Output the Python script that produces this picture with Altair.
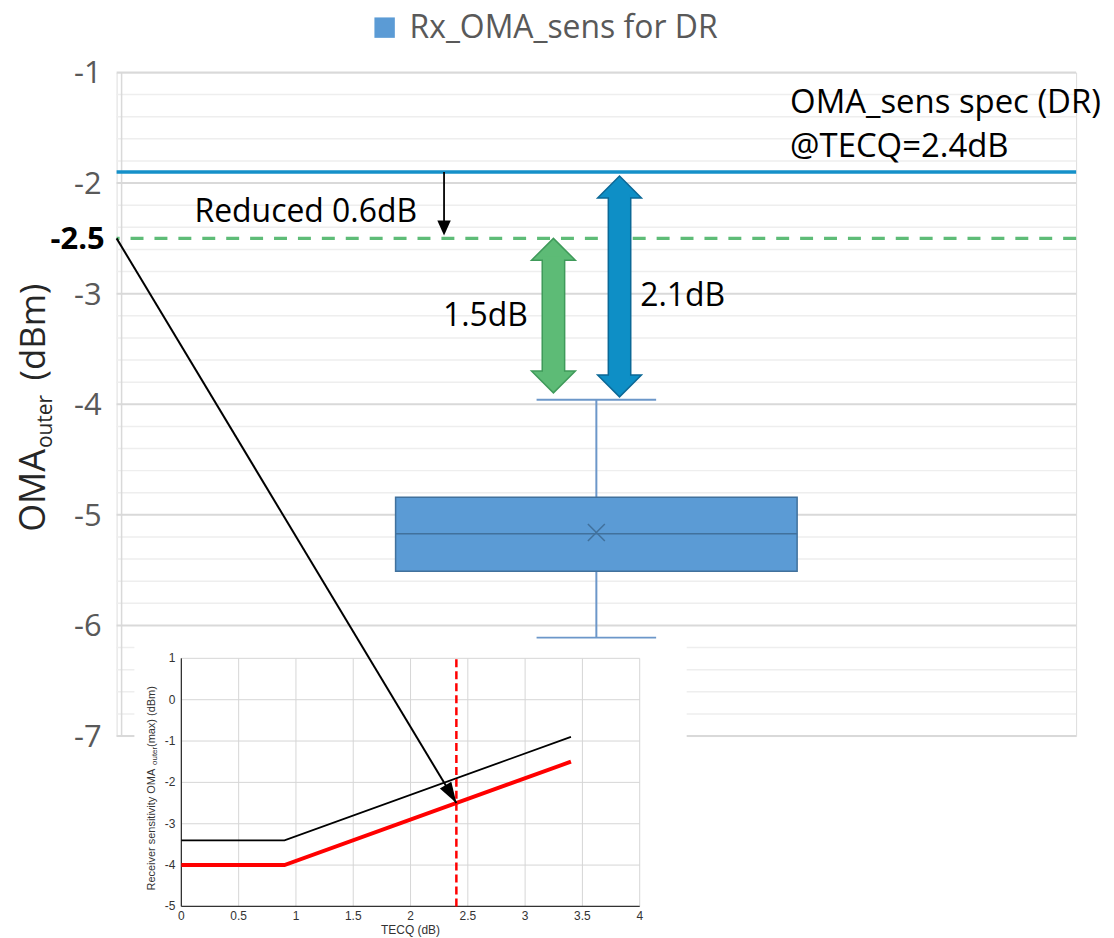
import math
import altair as alt
import pandas as pd

# ------------------------------------------------------------------ data
series_name = "Rx_OMA_sens for DR"
box_whisker_low = -6.11
box_q1 = -5.51
box_median = -5.17
box_mean = -5.16
box_q3 = -4.84
box_whisker_high = -3.96

spec_level = -1.9        # OMA_sens spec (DR) @TECQ=2.4dB
reduced_level = -2.5     # spec reduced by 0.6 dB

y_major = [-1, -2, -3, -4, -5, -6, -7]
y_minor = [-1.2, -1.4, -1.6, -1.8, -2.2, -2.4, -2.6, -2.8, -3.2, -3.4, -3.6, -3.8,
           -4.2, -4.4, -4.6, -4.8, -5.2, -5.4, -5.6, -5.8, -6.2, -6.4, -6.6, -6.8]
y_tick_labels = ["-1", "-2", "-3", "-4", "-5", "-6", "-7"]
highlight_label = "-2.5"

inset_tecq = [0, 0.9, 3.4]
inset_sens_spec = [-3.4, -3.4, -0.9]
inset_sens_reduced = [-4.0, -4.0, -1.5]
inset_tecq_marker = 2.4
inset_x_ticks = [0, 0.5, 1, 1.5, 2, 2.5, 3, 3.5, 4]
inset_x_tick_labels = ["0", "0.5", "1", "1.5", "2", "2.5", "3", "3.5", "4"]
inset_y_ticks = [1, 0, -1, -2, -3, -4, -5]
inset_y_tick_labels = ["1", "0", "-1", "-2", "-3", "-4", "-5"]

spec_texts = ["OMA_sens spec (DR)", "@TECQ=2.4dB"]
note_texts = ["Reduced 0.6dB", "1.5dB", "2.1dB"]

# ------------------------------------------------------------------ layout
W, H = 963, 666
PAD = {"left": 109, "top": 63, "right": 30, "bottom": 210}
MAIN_X_DOM = [0.0, 1.0]
MAIN_Y_DOM = [-7.0, -1.0]
INSET_X_DOM = [0.0, 4.0]
INSET_Y_DOM = [-5.0, 1.0]
INSET_X_RANGE = [65, 525]
INSET_Y_RANGE = [837, 588]
FONT = "Open Sans"
INSET_FONT = "Liberation Sans"

# annotation placement (main x units)
POS = {"box": 0.5, "green": 0.4548, "blue": 0.5244, "thin": 0.3396,
       "spec_x": 0.704, "spec_y": [-1.369, -1.766],
       "note_x": [0.0768, 0.3385, 0.5462], "note_y": [-2.351, -3.288, -3.108]}

BOX_FILL, BOX_EDGE, WHISK = "#5b9bd5", "#41719c", "#6c97c9"
SPEC_BLUE, GREEN = "#1590c9", "#5ebc77"


def sx():
    return alt.Scale(domain=MAIN_X_DOM, nice=False, zero=False)


def sy():
    return alt.Scale(domain=MAIN_Y_DOM, nice=False, zero=False)


def MX(f):
    return alt.X(f, type="quantitative", scale=sx(), axis=None)


def MY(f):
    return alt.Y(f, type="quantitative", scale=sy(), axis=None)


def IX(f):
    return alt.X(f, type="quantitative", axis=None,
                 scale=alt.Scale(domain=INSET_X_DOM, range=INSET_X_RANGE, nice=False, zero=False))


def IY(f):
    return alt.Y(f, type="quantitative", axis=None,
                 scale=alt.Scale(domain=INSET_Y_DOM, range=INSET_Y_RANGE, nice=False, zero=False))


def inset_to_px(tx, ty):
    px = INSET_X_RANGE[0] + (tx - INSET_X_DOM[0]) / (INSET_X_DOM[1] - INSET_X_DOM[0]) * (INSET_X_RANGE[1] - INSET_X_RANGE[0])
    py = INSET_Y_RANGE[0] + (ty - INSET_Y_DOM[0]) / (INSET_Y_DOM[1] - INSET_Y_DOM[0]) * (INSET_Y_RANGE[1] - INSET_Y_RANGE[0])
    return px, py


def main_to_px(mx, my):
    return (mx - MAIN_X_DOM[0]) / (MAIN_X_DOM[1] - MAIN_X_DOM[0]) * W, (MAIN_Y_DOM[1] - my) / (MAIN_Y_DOM[1] - MAIN_Y_DOM[0]) * H


def px_to_main(px, py):
    return MAIN_X_DOM[0] + px / W * (MAIN_X_DOM[1] - MAIN_X_DOM[0]), MAIN_Y_DOM[1] - py / H * (MAIN_Y_DOM[1] - MAIN_Y_DOM[0])


UP_HEAD = "M-1,1L0,0L1,1Z"
DOWN_HEAD = "M-1,-1L0,0L1,-1Z"


def fat_arrow(x, top, bottom, fill, edge, top_gap, bot_gap, head=22):
    df = pd.DataFrame({"x": [x], "top": [top], "bottom": [bottom]})
    base = alt.Chart(df)
    enc = dict(x=MX("x"), y=MY("top"), y2="bottom")
    outline = base.mark_rule(color=edge, strokeWidth=24, yOffset=top_gap + head - 1,
                             y2Offset=-(bot_gap + head - 1)).encode(**enc)
    up = base.mark_point(shape=UP_HEAD, size=(2 * head) ** 2, filled=True, color=fill, fill=fill,
                         stroke=edge, strokeWidth=1.5, opacity=1, yOffset=top_gap).encode(x=MX("x"), y=MY("top"))
    down = base.mark_point(shape=DOWN_HEAD, size=(2 * head) ** 2, filled=True, color=fill, fill=fill,
                           stroke=edge, strokeWidth=1.5, opacity=1, yOffset=-bot_gap).encode(x=MX("x"), y=MY("bottom"))
    inner = base.mark_rule(color=fill, strokeWidth=21, yOffset=top_gap + head - 4,
                           y2Offset=-(bot_gap + head - 4)).encode(**enc)
    return [outline, up, down, inner]


# ------------------------------------------------------------------ main chart
minor_grid = alt.Chart(pd.DataFrame({"v": y_minor})).mark_rule(color="#eeeeee", strokeWidth=1.5).encode(y=MY("v"))
major_grid = alt.Chart(pd.DataFrame({"v": y_major})).mark_rule(color="#d9d9d9", strokeWidth=2).encode(y=MY("v"))
y_domain = alt.Chart(pd.DataFrame({"x": [MAIN_X_DOM[0]], "y0": [MAIN_Y_DOM[0]], "y1": [MAIN_Y_DOM[1]]})).mark_rule(
    color="#d9d9d9", strokeWidth=1.5).encode(x=MX("x"), y=MY("y0"), y2="y1")
y_ticklab = alt.Chart(pd.DataFrame({"v": y_major, "t": y_tick_labels, "x": MAIN_X_DOM[0]})).mark_text(
    align="right", baseline="middle", dx=-20, dy=2, font=FONT, fontSize=31, color="#595959").encode(
    x=MX("x"), y=MY("v"), text="t:N")
y_highlight = alt.Chart(pd.DataFrame({"v": [reduced_level], "t": [highlight_label], "x": [MAIN_X_DOM[0]]})).mark_text(
    align="right", baseline="middle", dx=-17, dy=2, font=FONT, fontSize=31, fontWeight="bold", color="black").encode(
    x=MX("x"), y=MY("v"), text="t:N")

spec_line = alt.Chart(pd.DataFrame({"v": [spec_level]})).mark_rule(color=SPEC_BLUE, strokeWidth=3.5).encode(y=MY("v"))
reduced_line = alt.Chart(pd.DataFrame({"v": [reduced_level]})).mark_rule(
    color=GREEN, strokeWidth=3.5, strokeDash=[13, 11]).encode(y=MY("v"))

box_df = pd.DataFrame({"series": [series_name], "pos": [POS["box"]], "lo": [box_whisker_low], "q1": [box_q1],
                       "med": [box_median], "mean": [box_mean], "q3": [box_q3], "hi": [box_whisker_high]})
bb = alt.Chart(box_df)
whisk_lo = bb.mark_rule(color=WHISK, strokeWidth=2).encode(x=MX("pos"), y=MY("lo"), y2="q1")
whisk_hi = bb.mark_rule(color=WHISK, strokeWidth=2).encode(x=MX("pos"), y=MY("q3"), y2="hi")
cap_lo = bb.mark_tick(orient="horizontal", size=120, thickness=2, color=WHISK, opacity=1).encode(x=MX("pos"), y=MY("lo"))
cap_hi = bb.mark_tick(orient="horizontal", size=120, thickness=2, color=WHISK, opacity=1).encode(x=MX("pos"), y=MY("hi"))
box = bb.mark_bar(size=403, stroke=BOX_EDGE, strokeWidth=1.5, opacity=1).encode(
    x=MX("pos"), y=MY("q1"), y2="q3",
    color=alt.Color("series:N", scale=alt.Scale(domain=[series_name], range=[BOX_FILL]),
                    legend=alt.Legend(orient="none", legendX=253, legendY=-61, title=None, symbolType="square",
                                      symbolSize=420, symbolStrokeWidth=0, labelFont=FONT, labelFontSize=32,
                                      labelColor="#595959", labelOffset=9, padding=0, labelLimit=600)))
median = bb.mark_tick(orient="horizontal", size=403, thickness=1.5, color=BOX_EDGE, opacity=1).encode(
    x=MX("pos"), y=MY("med"))
mean = bb.mark_point(shape="M-1,-1L1,1M-1,1L1,-1", size=289, filled=False, stroke=BOX_EDGE,
                     strokeWidth=1.5, opacity=1).encode(x=MX("pos"), y=MY("mean"))

green_arrow = fat_arrow(POS["green"], reduced_level, box_whisker_high, "#5dbb76", "#3f9a5a", 0, 7)
blue_arrow = fat_arrow(POS["blue"], spec_level, box_whisker_high, "#0e8fc6", "#0b6896", 4, 3)

thin_df = pd.DataFrame({"x": [POS["thin"]], "top": [spec_level], "bottom": [reduced_level]})
thin_rule = alt.Chart(thin_df).mark_rule(color="black", strokeWidth=1.8, y2Offset=-16).encode(
    x=MX("x"), y=MY("top"), y2="bottom")
thin_head = alt.Chart(thin_df).mark_point(shape="M-0.45,-1L0,0L0.45,-1Z", size=900, filled=True, color="black",
                                          opacity=1, yOffset=-3).encode(x=MX("x"), y=MY("bottom"))

spec_txt = alt.Chart(pd.DataFrame({"label": spec_texts, "x": [POS["spec_x"]] * 2, "y": POS["spec_y"]})).mark_text(
    align="left", baseline="alphabetic", font=FONT, fontSize=33, color="black").encode(
    x=MX("x"), y=MY("y"), text="label:N")
note_txt = alt.Chart(pd.DataFrame({"label": note_texts, "x": POS["note_x"], "y": POS["note_y"]})).mark_text(
    align="left", baseline="alphabetic", font=FONT, fontSize=32, color="black").encode(
    x=MX("x"), y=MY("y"), text="label:N")


def label(text, size, x, y, align, font=FONT, color="#262626"):
    return alt.Chart(pd.DataFrame({"t": [text]})).mark_text(
        angle=270, align=align, baseline="middle", font=font, fontSize=size, color=color).encode(
        x=alt.value(x), y=alt.value(y), text="t:N")


ytitle = [label("OMA", 36, -83, 461, "left"), label("outer", 21, -71, 377, "left"),
          label("(dBm)", 35, -83, 212, "right")]

main = alt.layer(minor_grid, major_grid, y_domain, y_ticklab, y_highlight, spec_line, reduced_line,
                 whisk_lo, whisk_hi, cap_lo, cap_hi, box, median, mean, *green_arrow, *blue_arrow,
                 thin_rule, thin_head, spec_txt, note_txt, *ytitle)

# ------------------------------------------------------------------ inset
panel = pd.DataFrame({"x0": [-0.41], "x1": [4.41], "y0": [-5.9], "y1": [1.41]})
bg = alt.Chart(panel).mark_rect(color="white", opacity=1).encode(x=IX("x0"), x2="x1", y=IY("y0"), y2="y1")

vgrid = alt.Chart(pd.DataFrame({"x": inset_x_ticks, "y0": INSET_Y_DOM[0], "y1": INSET_Y_DOM[1]})).mark_rule(
    color="#d6d6d6", strokeWidth=1).encode(x=IX("x"), y=IY("y0"), y2="y1")
hgrid = alt.Chart(pd.DataFrame({"y": inset_y_ticks, "x0": INSET_X_DOM[0], "x1": INSET_X_DOM[1]})).mark_rule(
    color="#d6d6d6", strokeWidth=1).encode(y=IY("y"), x=IX("x0"), x2="x1")
ax_left = alt.Chart(pd.DataFrame({"x": [INSET_X_DOM[0]], "y0": [INSET_Y_DOM[0]], "y1": [INSET_Y_DOM[1]]})).mark_rule(
    color="#333333", strokeWidth=1.3).encode(x=IX("x"), y=IY("y0"), y2="y1")
ax_bottom = alt.Chart(pd.DataFrame({"y": [INSET_Y_DOM[0]], "x0": [INSET_X_DOM[0]], "x1": [INSET_X_DOM[1]]})).mark_rule(
    color="#333333", strokeWidth=1.3).encode(y=IY("y"), x=IX("x0"), x2="x1")

curves = pd.DataFrame({"tecq": inset_tecq, "spec": inset_sens_spec, "reduced": inset_sens_reduced})
black_line = alt.Chart(curves).mark_line(color="black", strokeWidth=1.8).encode(x=IX("tecq"), y=IY("spec"))
red_line = alt.Chart(curves).mark_line(color="#ff0000", strokeWidth=4).encode(x=IX("tecq"), y=IY("reduced"))
red_dash = alt.Chart(pd.DataFrame({"x": [inset_tecq_marker], "y0": [INSET_Y_DOM[0]], "y1": [INSET_Y_DOM[1]]})).mark_rule(
    color="#ff0000", strokeWidth=2.5, strokeDash=[8, 4]).encode(x=IX("x"), y=IY("y0"), y2="y1")

xlab = alt.Chart(pd.DataFrame({"x": inset_x_ticks, "y": INSET_Y_DOM[0], "t": inset_x_tick_labels})).mark_text(
    align="center", baseline="middle", dy=10, font=INSET_FONT, fontSize=12, color="#333333").encode(
    x=IX("x"), y=IY("y"), text="t:N")
ylab = alt.Chart(pd.DataFrame({"y": inset_y_ticks, "x": INSET_X_DOM[0], "t": inset_y_tick_labels})).mark_text(
    align="right", baseline="middle", dx=-6, font=INSET_FONT, fontSize=12, color="#333333").encode(
    x=IX("x"), y=IY("y"), text="t:N")
xtitle = alt.Chart(pd.DataFrame({"x": [2.0], "y": [INSET_Y_DOM[0]], "t": ["TECQ (dB)"]})).mark_text(
    align="center", baseline="middle", dy=24, font=INSET_FONT, fontSize=12, color="#333333").encode(
    x=IX("x"), y=IY("y"), text="t:N")
iytitle = [label("Receiver sensitivity OMA", 11, 36, 821, "left", INSET_FONT, "#333333"),
           label("outer", 8, 39, 695, "left", INSET_FONT, "#333333"),
           label(" (max) (dBm)", 11, 36, 677, "left", INSET_FONT, "#333333")]

inset = alt.layer(bg, vgrid, hgrid, ax_left, ax_bottom, black_line, red_line, red_dash, xlab, ylab, xtitle, *iytitle)

# ------------------------------------------------------------------ connector arrow
end_px = inset_to_px(inset_tecq_marker, reduced_level)
start_px = main_to_px(MAIN_X_DOM[0], reduced_level)
end_main = px_to_main(*end_px)
ang = math.degrees(math.atan2(end_px[0] - start_px[0], -(end_px[1] - start_px[1]))) % 360
conn_df = pd.DataFrame({"x0": [MAIN_X_DOM[0]], "y0": [reduced_level], "x1": [end_main[0]], "y1": [end_main[1]]})
conn_rule = alt.Chart(conn_df).mark_rule(color="black", strokeWidth=2).encode(x=MX("x0"), y=MY("y0"), x2="x1", y2="y1")
conn_head = alt.Chart(conn_df).mark_point(shape="M-0.32,1L0,0L0.32,1Z", size=1764, filled=True, color="black",
                                          opacity=1, angle=ang).encode(x=MX("x1"), y=MY("y1"))
connector = alt.layer(conn_rule, conn_head)

chart = alt.layer(main, inset, connector).resolve_scale(x="independent", y="independent").properties(
    width=W, height=H, padding=PAD, autosize=alt.AutoSizeParams(type="none")
).configure_view(stroke=None).configure(background="white")

chart.save("out.html", embed_options={"renderer": "svg", "actions": False})
